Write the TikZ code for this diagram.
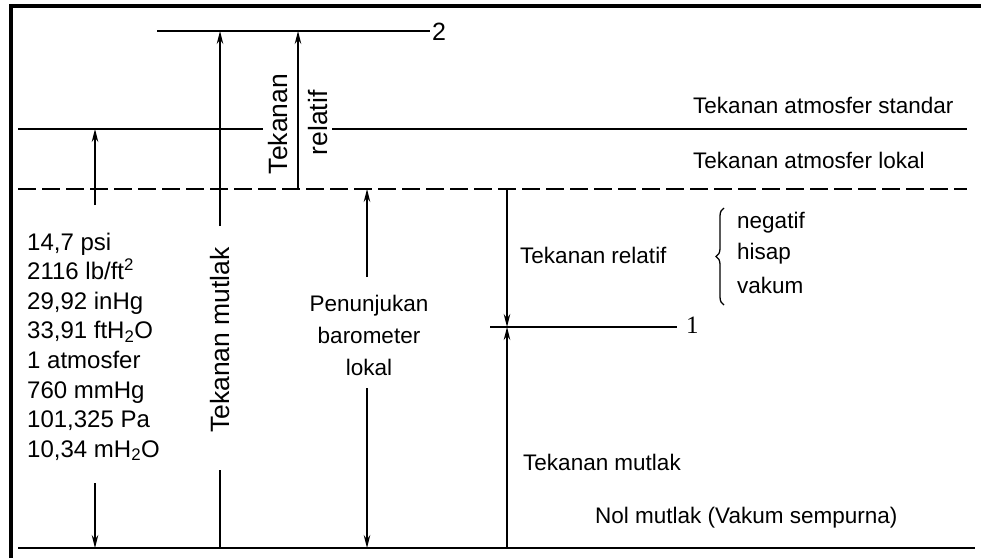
\documentclass[tikz,border=0pt]{standalone}
\usepackage{fontspec}
\setmainfont{Liberation Sans}
\newfontfamily\serifone{Liberation Serif}
\usetikzlibrary{arrows.meta,decorations.pathreplacing}
\begin{document}
\begin{tikzpicture}[x=1pt,y=-1pt,
 level/.style={line width=2.8pt},
 thinline/.style={line width=1.3pt},
 arr/.style={thinline,-{Stealth[length=13pt,width=6.5pt]}},
 lbl/.style={inner sep=0pt,font=\fontsize{22.5}{26}\selectfont},
 rot/.style={inner sep=0pt,rotate=90,font=\fontsize{26.5}{30}\selectfont},
 ]
\useasboundingbox (0,0) rectangle (981,558);
% frame
\draw[line width=3.5pt] (11,558) -- (11,6) -- (981,6);
% level lines
\coordinate (l2a) at (157,31); \coordinate (l2b) at (430,31);
\draw[level] (l2a) -- (l2b);
\node[anchor=west,inner sep=0pt,font=\fontsize{25}{28}\selectfont] (n2) at (432,32) {2};
\coordinate (sa) at (18,129); \coordinate (sb) at (263,129);
\coordinate (sc) at (332,129); \coordinate (sd) at (967,129);
\draw[level] (sa) -- (sb);
\draw[level] (sc) -- (sd);
\coordinate (la) at (18,189); \coordinate (lb) at (967,189);
\draw[level,dash pattern=on 18pt off 6pt] (la) -- (lb);
\coordinate (l1a) at (490,327); \coordinate (l1b) at (677,327);
\draw[line width=1.7pt] (l1a) -- (l1b);
\node[anchor=west,inner sep=0pt,font=\serifone\fontsize{25}{28}\selectfont] (n1) at (686,325) {1};
\coordinate (za) at (18,548); \coordinate (zb) at (975,548);
\draw[level] (za) -- (zb);
% labels
\node[lbl,anchor=west] (std) at (693,105) {Tekanan atmosfer standar};
\node[lbl,anchor=west] (lok) at (693,160) {Tekanan atmosfer lokal};
\node[lbl,anchor=west] (trel) at (520,255) {Tekanan relatif};
\node[lbl,anchor=west] (neg) at (737,223) {negatif};
\node[lbl,anchor=west] (his) at (737,254) {hisap};
\node[lbl,anchor=west] (vak) at (737,285) {vakum};
\coordinate (bra) at (724,305); \coordinate (brb) at (724,208);
\draw[thinline,decorate,decoration={brace,amplitude=8pt}] (bra) -- (brb);
\node[lbl,align=center,font=\fontsize{22.5}{32}\selectfont] (baro) at (369,335) {Penunjukan\\barometer\\lokal};
\node[lbl,anchor=west] (tmut) at (523,462) {Tekanan mutlak};
\node[lbl,anchor=west] (nol) at (595,518) {Nol mutlak (Vakum sempurna)};
\node[rot] (rmut) at (220,340) {Tekanan mutlak};
\node[rot] (rtek) at (278,124) {Tekanan};
\node[rot] (rrel) at (318,123) {relatif};
% unit list
\foreach \t [count=\i from 0] in {{14,7 psi}, {2116 lb/ft\textsuperscript{2}}, {29,92 inHg}, {33,91 ftH\textsubscript{2}O}, {1 atmosfer}, {760 mmHg}, {101,325 Pa}, {10,34 mH\textsubscript{2}O}}
  \node[inner sep=0pt,anchor=base west,font=\fontsize{24}{28}\selectfont] (u\i) at (27,250+29.6*\i) {\t};
% arrows
\coordinate (a1t) at (95,205); \coordinate (a1b) at (95,483);
\draw[arr] (a1t) -- (sa -| a1t);
\draw[arr] (a1b) -- (za -| a1b);
\coordinate (a2t) at (220,226); \coordinate (a2b) at (220,470);
\draw[arr] (a2t) -- (l2a -| a2t);
\draw[thinline] (a2b) -- (za -| a2b);
\coordinate (a3) at (298,189);
\draw[arr] (a3) -- (l2a -| a3);
\coordinate (a4t) at (367,277); \coordinate (a4b) at (367,388);
\draw[arr] (a4t) -- (la -| a4t);
\draw[arr] (a4b) -- (za -| a4b);
\coordinate (a5t) at (507,189); \coordinate (a5b) at (507,548);
\draw[arr] (a5t) -- (l1a -| a5t);
\draw[arr] (a5b) -- (l1a -| a5b);
\end{tikzpicture}
\end{document}
